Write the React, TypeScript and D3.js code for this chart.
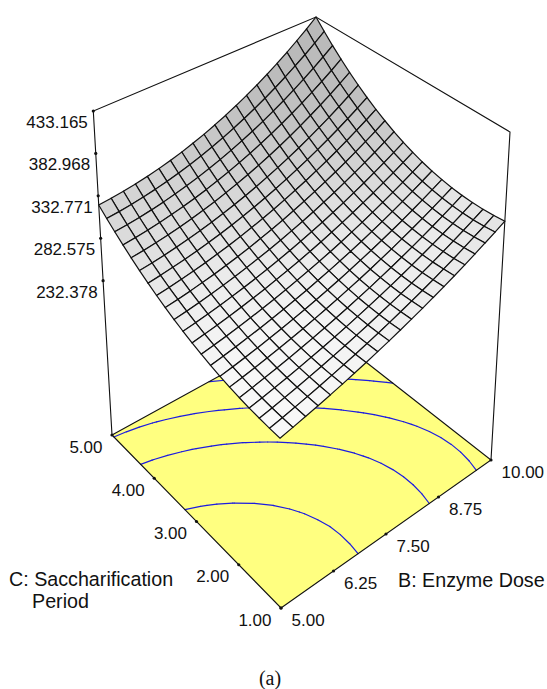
import React from "react";
import * as d3 from "d3";

const bTicks = ["5.00","6.25","7.50","8.75","10.00"];
const cTicks = ["1.00","2.00","3.00","4.00","5.00"];
const zTicks = [232.378,282.575,332.771,382.968,433.165];
const contourLevels = [265,294.5,320,349];
const zBase = 49.8;
const zTop = 433.165;
// Response: rows run along C (1 to 5), columns along B (5 to 10).
const Z:number[][] = [
[243.0,245.8,248.8,251.9,255.2,258.6,262.2,266.0,269.9,273.9,278.2,282.6,287.1,291.8,296.6,301.6,306.8,312.1,317.6,323.2,329.0],
[243.1,245.8,248.7,251.7,254.9,258.3,261.8,265.5,269.3,273.3,277.4,281.7,286.2,290.8,295.5,300.5,305.5,310.8,316.2,321.7,327.5],
[243.6,246.2,249.0,252.0,255.1,258.4,261.8,265.4,269.1,273.0,277.1,281.3,285.7,290.3,295.0,299.9,304.9,310.1,315.4,320.9,326.6],
[244.5,247.0,249.7,252.6,255.6,258.9,262.2,265.7,269.4,273.3,277.3,281.5,285.8,290.4,295.0,299.9,304.9,310.0,315.3,320.8,326.5],
[245.8,248.2,250.9,253.7,256.6,259.8,263.1,266.6,270.2,274.0,278.0,282.1,286.5,291.0,295.6,300.4,305.4,310.6,315.9,321.4,327.1],
[247.5,249.9,252.4,255.2,258.1,261.1,264.4,267.8,271.4,275.2,279.2,283.3,287.6,292.1,296.7,301.6,306.6,311.8,317.1,322.7,328.4],
[249.6,251.9,254.4,257.0,259.9,262.9,266.1,269.5,273.1,276.9,280.8,284.9,289.3,293.7,298.4,303.3,308.3,313.6,319.0,324.6,330.4],
[252.1,254.3,256.7,259.3,262.1,265.1,268.3,271.7,275.2,279.0,282.9,287.1,291.4,295.9,300.7,305.6,310.7,316.0,321.5,327.2,333.1],
[255.1,257.2,259.5,262.1,264.8,267.7,270.9,274.2,277.8,281.6,285.5,289.7,294.1,298.7,303.5,308.5,313.7,319.1,324.7,330.5,336.5],
[258.4,260.4,262.7,265.2,267.9,270.8,273.9,277.3,280.8,284.6,288.6,292.8,297.3,301.9,306.8,311.9,317.2,322.8,328.5,334.5,340.7],
[262.2,264.1,266.3,268.7,271.4,274.3,277.4,280.8,284.3,288.2,292.2,296.5,301.0,305.8,310.7,316.0,321.4,327.1,333.0,339.1,345.5],
[266.3,268.2,270.3,272.7,275.3,278.2,281.3,284.7,288.3,292.1,296.3,300.6,305.2,310.1,315.2,320.6,326.2,332.0,338.1,344.5,351.1],
[270.9,272.7,274.7,277.1,279.6,282.5,285.6,289.0,292.7,296.6,300.8,305.3,310.0,315.0,320.2,325.8,331.5,337.6,343.9,350.5,357.4],
[275.8,277.5,279.6,281.8,284.4,287.3,290.4,293.8,297.6,301.5,305.8,310.4,315.3,320.4,325.8,331.5,337.5,343.8,350.4,357.2,364.3],
[281.2,282.8,284.8,287.0,289.6,292.5,295.6,299.1,302.9,307.0,311.4,316.0,321.0,326.4,332.0,337.9,344.1,350.6,357.5,364.6,372.0],
[287.0,288.6,290.4,292.7,295.2,298.1,301.3,304.8,308.7,312.8,317.3,322.2,327.3,332.8,338.7,344.8,351.3,358.1,365.2,372.7,380.5],
[293.2,294.7,296.5,298.7,301.2,304.1,307.4,310.9,314.9,319.2,323.8,328.8,334.2,339.9,345.9,352.3,359.1,366.2,373.6,381.4,389.6],
[299.8,301.2,303.0,305.1,307.7,310.6,313.9,317.5,321.6,326.0,330.8,335.9,341.5,347.4,353.7,360.4,367.4,374.9,382.7,390.8,399.4],
[306.8,308.1,309.8,312.0,314.5,317.5,320.8,324.5,328.7,333.2,338.2,343.6,349.3,355.5,362.1,369.0,376.4,384.2,392.4,401.0,409.9],
[314.2,315.4,317.1,319.2,321.8,324.8,328.2,332.0,336.3,341.0,346.1,351.7,357.7,364.1,371.0,378.3,386.0,394.2,402.7,411.8,421.2],
[322.0,323.2,324.8,326.9,329.5,332.5,336.0,339.9,344.4,349.2,354.6,360.3,366.6,373.3,380.5,388.1,396.2,404.7,413.8,423.2,433.165],
];
const N = Z.length-1;

type Pt=[number,number];
// Projection of the plot box: the corners are front, right, back, left.
const floorCorners:Pt[]=[[281,608],[491,460],[316,323],[112,435]];
const topCorners:Pt[]=[[279,271],[510,132],[316,17],[93.3,111]];
function homography([F,R,B,L]:Pt[]){
 const dx1=R[0]-B[0],dx2=L[0]-B[0],sx=F[0]-R[0]+B[0]-L[0];
 const dy1=R[1]-B[1],dy2=L[1]-B[1],sy=F[1]-R[1]+B[1]-L[1];
 const den=dx1*dy2-dx2*dy1;
 const g=(sx*dy2-dx2*sy)/den,i0=(dx1*sy-sx*dy1)/den;
 const a=R[0]-F[0]+g*R[0],b=L[0]-F[0]+i0*L[0];
 const d=R[1]-F[1]+g*R[1],e=L[1]-F[1]+i0*L[1];
 return (u:number,v:number):Pt=>{const w=g*u+i0*v+1;return [(a*u+b*v+F[0])/w,(d*u+e*v+F[1])/w];};
}
const H0=homography(floorCorners),H1=homography(topCorners);
const hS=d3.scaleLinear().domain([zBase,zTop]).range([0,1]);
const P=(u:number,v:number,z:number):Pt=>{const h=hS(z),a=H0(u,v),b=H1(u,v);return [a[0]+h*(b[0]-a[0]),a[1]+h*(b[1]-a[1])];};
const line=d3.line();
const uS=d3.scaleLinear().domain([0,N]).range([0,1]);
// The ticks sit evenly along the two front edges of the floor.
const tickS=d3.scaleLinear().domain([0,4]).range([0,1]);
const along=(a:Pt,b:Pt,t:number):Pt=>[d3.interpolateNumber(a[0],b[0])(t),d3.interpolateNumber(a[1],b[1])(t)];

// Grey from the tilt of each cell, as a lit surface.
const shade=(i:number,j:number)=>{
 const zu=(Z[j][i+1]-Z[j][i]+Z[j+1][i+1]-Z[j+1][i])/2*N;
 const zv=(Z[j+1][i]-Z[j][i]+Z[j+1][i+1]-Z[j][i+1])/2*N;
 const g=252-67*(1-Math.exp(-Math.pow((zu*zu+zv*zv)/27400,1.3)));
 return d3.rgb(g,g,g).formatHex();
};

function contourSegs(){const out:Pt[][]=[];
 for(const lv of contourLevels)for(let j=0;j<N;j++)for(let i=0;i<N;i++){
  const c:[number,number,number][]=[[i,j,Z[j][i]],[i+1,j,Z[j][i+1]],[i+1,j+1,Z[j+1][i+1]],[i,j+1,Z[j+1][i]]];
  const pts:Pt[]=[];
  for(let k=0;k<4;k++){const p=c[k],q=c[(k+1)%4];if((p[2]-lv)*(q[2]-lv)<0){const t=(lv-p[2])/(q[2]-p[2]);
    pts.push(P(uS(p[0]+t*(q[0]-p[0])),uS(p[1]+t*(q[1]-p[1])),zBase));}}
  if(pts.length>=2)out.push([pts[0],pts[1]]);
 }
 return out;}

export default function App(){
 const cells=[];
 for(let j=N-1;j>=0;j--)for(let i=N-1;i>=0;i--){
  const q=[P(uS(i),uS(j),Z[j][i]),P(uS(i+1),uS(j),Z[j][i+1]),P(uS(i+1),uS(j+1),Z[j+1][i+1]),P(uS(i),uS(j+1),Z[j+1][i])];
  cells.push(<path key={i+"-"+j} d={line(q as any)+"Z"} fill={shade(i,j)} stroke="#111" strokeWidth={1.2}/>);
 }
 const fl=(u:number,v:number)=>P(u,v,zBase);
 const top=(u:number,v:number)=>P(u,v,zTop);
 return <svg width={547} height={689} style={{position:"absolute",left:0,top:0}} fontFamily="'Liberation Sans',Arial,sans-serif" fontSize={17} fill="#111">
  <path d={line([fl(0,0),fl(1,0),fl(1,1),fl(0,1)] as any)+"Z"} fill="#ffff80" stroke="none"/>
  {contourSegs().map((s,k)=><path key={k} d={line(s)!} stroke="#1c1ce0" strokeWidth={1.2} fill="none" strokeLinecap="round"/>)}
  <path d={line([fl(0,1),fl(0,0),fl(1,0),fl(1,1),fl(0,1)] as any)!} fill="none" stroke="#111" strokeWidth={1.1}/>
  <path d={line([fl(0,1),top(0,1),top(1,1),top(1,0),fl(1,0)] as any)!} fill="none" stroke="#111" strokeWidth={1.1}/>
  {cells}
  {zTicks.map(z=>{const p=P(0,1,z);return <g key={z}><circle cx={p[0]} cy={p[1]} r={1.6} fill="#111"/><text x={p[0]-5.5} y={p[1]+17} textAnchor="end">{z.toFixed(3)}</text></g>;})}
  {cTicks.map((s,k)=>{const p=along(fl(0,0),fl(0,1),tickS(k));return <g key={s}><circle cx={p[0]} cy={p[1]} r={1.6} fill="#111"/><text x={p[0]-9.5} y={p[1]+17.5} textAnchor="end">{s}</text></g>;})}
  {bTicks.map((s,k)=>{const p=along(fl(0,0),fl(1,0),tickS(k));return <g key={s}><circle cx={p[0]} cy={p[1]} r={1.6} fill="#111"/><text x={p[0]+10.5} y={p[1]+18}>{s}</text></g>;})}
  <text x={398} y={587} fontSize={19.7}>B: Enzyme Dose</text>
  <text x={9} y={586} fontSize={19.7}>C: Saccharification</text>
  <text x={32} y={608} fontSize={19.7}>Period</text>
  <text x={270} y={685} textAnchor="middle" fontFamily="'Liberation Serif',serif" fontSize={20}>(a)</text>
 </svg>;
}
